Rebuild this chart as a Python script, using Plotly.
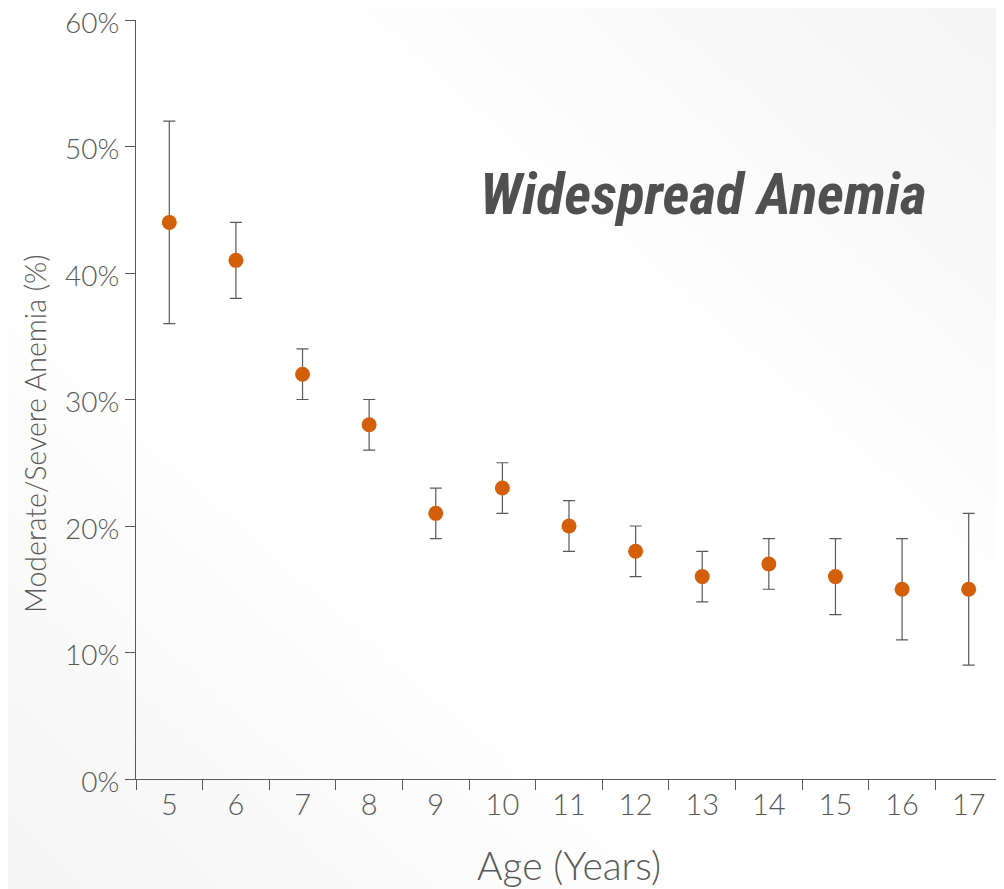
import base64
import struct
import zlib

import numpy as np
import plotly.graph_objects as go

ages = ["5", "6", "7", "8", "9", "10", "11", "12", "13", "14", "15", "16", "17"]
prevalence = [44, 41, 32, 28, 21, 23, 20, 18, 16, 17, 16, 15, 15]
ci_low = [36, 38, 30, 26, 19, 21, 18, 16, 14, 15, 13, 11, 9]
ci_high = [52, 44, 34, 30, 23, 25, 22, 20, 18, 19, 19, 19, 21]
y_ticks = [0, 10, 20, 30, 40, 50, 60]

err_plus = [h - v for h, v in zip(ci_high, prevalence)]
err_minus = [v - l for v, l in zip(prevalence, ci_low)]

grey = "#595959"
font_main = "Lato, 'Open Sans', sans-serif"

# subtle diagonal background gradient (decorative)
W_IMG, H_IMG = 200, 178
yy, xx = np.mgrid[0:H_IMG, 0:W_IMG]
u = xx / (W_IMG - 1)
v = yy / (H_IMG - 1)
d = np.abs(u - v)  # distance from the top-left -> bottom-right diagonal
shade = 255 - np.clip((d - 0.3) / 0.7, 0, 1) * 10
img = np.repeat(shade.astype(np.uint8)[:, :, None], 3, axis=2)
raw = b"".join(b"\x00" + img[r].tobytes() for r in range(H_IMG))


def _chunk(tag, data):
    c = struct.pack(">I", len(data)) + tag + data
    return c + struct.pack(">I", zlib.crc32(tag + data) & 0xFFFFFFFF)


png = (b"\x89PNG\r\n\x1a\n"
       + _chunk(b"IHDR", struct.pack(">IIBBBBB", W_IMG, H_IMG, 8, 2, 0, 0, 0))
       + _chunk(b"IDAT", zlib.compress(raw, 9))
       + _chunk(b"IEND", b""))
bg_src = "data:image/png;base64," + base64.b64encode(png).decode()

FIG_W, FIG_H = 996, 881
M_L, M_R, M_T, M_B = 128, 2, 12, 110
PW = FIG_W - M_L - M_R
PH = FIG_H - M_T - M_B

fig = go.Figure()
fig.add_trace(go.Scatter(
    x=ages, y=prevalence, mode="markers",
    marker=dict(color="#D35F0B", size=15),
    error_y=dict(type="data", symmetric=False, array=err_plus, arrayminus=err_minus,
                 color=grey, thickness=1.2, width=6),
    showlegend=False,
))

fig.update_layout(
    width=FIG_W, height=FIG_H,
    margin=dict(l=M_L, r=M_R, t=M_T, b=M_B, autoexpand=False),
    paper_bgcolor="white", plot_bgcolor="rgba(0,0,0,0)",
    font=dict(family=font_main, color=grey),
    xaxis=dict(type="category", tickson="boundaries", ticks="outside", ticklen=10,
               tickcolor=grey, showline=True, linecolor=grey, linewidth=1.2,
               showgrid=False, zeroline=False, automargin=False,
               tickfont=dict(size=29, color=grey, weight=300),
               ticklabeloverflow="allow",
               range=[-0.5, 12.5],
               title=dict(text="Age (Years)", font=dict(size=39, color=grey, weight=300),
                          standoff=32)),
    yaxis=dict(range=[0, 60], tickvals=y_ticks, ticktext=[f"{t}%" for t in y_ticks],
               ticks="outside", ticklen=10, tickcolor=grey, showline=True,
               linecolor=grey, linewidth=1.2, showgrid=False, zeroline=False,
               automargin=False, ticklabeloverflow="allow", ticklabelshift=3,
               tickfont=dict(size=28, color=grey, weight=300)),
    images=[dict(source=bg_src, xref="paper", yref="paper",
                 x=-M_L / PW, y=1 + M_T / PH, sizex=FIG_W / PW, sizey=FIG_H / PH,
                 xanchor="left", yanchor="top", sizing="stretch", layer="below")],
)

fig.add_annotation(text="<b><i>Widespread Anemia</i></b>", xref="paper", yref="paper",
                   x=(703 - 136) / PW, y=(779 - 194) / PH, showarrow=False,
                   xanchor="center", yanchor="middle",
                   font=dict(family="'Liberation Sans Narrow', 'Roboto Condensed', Roboto, sans-serif",
                             size=58, color="#505050"))
fig.add_annotation(text="Moderate/Severe Anemia (%)", xref="paper", yref="paper",
                   x=(35 - 136) / PW, y=(779 - 434) / PH, showarrow=False,
                   textangle=-90, xanchor="center", yanchor="middle",
                   font=dict(family=font_main, size=28.5, color=grey, weight=300))

fig.write_html("out.html")
